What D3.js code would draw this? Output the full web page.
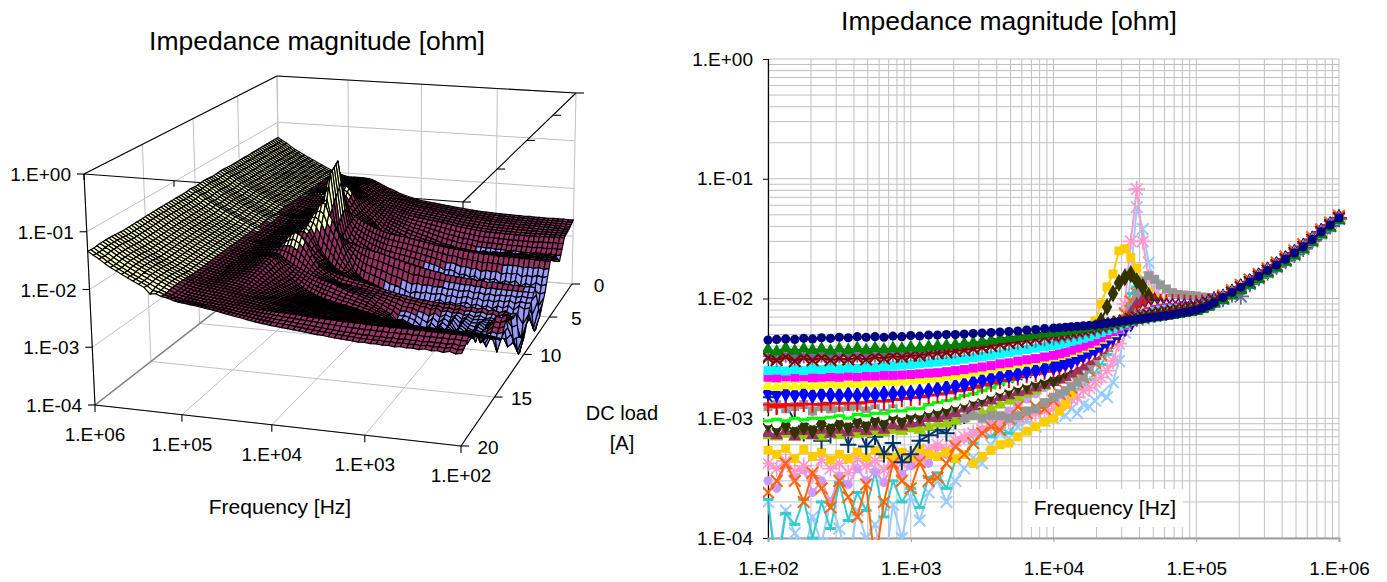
<!DOCTYPE html>
<html>
<head>
<meta charset="utf-8">
<script src="https://cdnjs.cloudflare.com/ajax/libs/d3/7.8.5/d3.min.js"></script>
<style>
  html, body { margin: 0; background: #fff; }
  text { font-family: "Liberation Sans", Arial, sans-serif; fill: #000; }
</style>
</head>
<body>
<svg id="chart" width="1387" height="582"></svg>
<script>
// frequency axis, Hz
const freqLow = [100,115,133,154,178,205,237,274,316,365,422,487,562,649,750,866,1000,1155,1334,1540,1778,2054,2371,2738,3162,3652,4217,4870,5623,6494,7499,8660]
const freqMid = [10000,11007,12115,13335,14678,16156,17783,19573,21544,23714,26102,28730,31623,34807,38312,42170,46416,51090,56234,61897,68129,74989,82540,90852,100000,110069,121153,133352]
const freqTail = [154000,178000,205000,237000,274000,316000,365000,422000,487000,562000,649000,750000,866000,1000000]
const frequencies = [...freqLow, ...freqMid, ...freqTail]

// above 150 kHz all the curves sit on top of each other, values in milliohm
const tailMain = [10.2,11.2,12.4,13.7,15.3,17.1,19,21.3,24,27,31,36,41,47]
const tailUpper = [10.6,11.7,13,14.4,16,17.9,20,22.4,25.2,28.4,32.5,37.7,43,49]
const tailLower = [9.7,10.6,11.7,13,14.5,16.2,18,20.2,22.8,25.7,29.5,34.2,39,45]
const tailSlate = [9.9,10.8,10.4,13.2,14.8,16.5,18.4,20.6,23.2,26,30,35,40,46]

// impedance in milliohm, one row per DC load, 100 Hz .. 133 kHz
const zLightBlue = [.2,.06,.17,.11,.07,.15,.09,.2,.12,.06,.17,.1,.13,.05,.19,.1,.22,.14,.24,.3,.2,.3,.38,.47,.42,.6,.75,.68,.85,.95,.85,.95,
  1,1.1,1.05,1.2,1.1,1.3,1.25,1.4,1.6,1.5,2,3,5.2,16,58,38,20,13,10.5,9.4,8.8,8.5,8.4,8.3,8.3,8.6,9,9.4]
const zTeal = [.21,.05,.16,.13,.21,.1,.2,.12,.29,.14,.24,.17,.36,.15,.3,.2,.26,.18,.32,.35,.26,.44,.5,.62,.8,.7,.85,.75,.95,1,1.15,1.3,
  1.4,1.5,1.55,1.7,1.75,1.9,2.1,2.4,2.8,3.4,4.2,5.5,8,11,12.5,11.5,10,9.5,9,8.8,8.6,8.5,8.4,8.4,8.4,8.7,9.1,9.5]
const zLavender = [.3,.26,.42,.32,.37,.24,.3,.2,.33,.28,.38,.3,.36,.29,.42,.34,.4,.48,.42,.58,.5,.6,.68,.75,.8,.9,1,1.15,1.3,1.45,1.6,1.8,
  2,2.1,2.25,2.4,2.6,2.8,3,3.3,3.6,4,4.5,5.1,5.8,6.6,7.5,8.3,8.7,8.8,8.7,8.6,8.5,8.5,8.4,8.4,8.4,8.7,9.1,9.5]
const zRose = [.42,.38,.44,.36,.4,.33,.45,.38,.42,.35,.46,.4,.44,.37,.48,.42,.5,.46,.55,.6,.55,.65,.7,.75,.8,.85,.9,.95,1,1.05,1.1,1.15,
  1.2,1.3,1.35,1.45,1.5,1.7,1.8,2,2.2,2.5,3,4.2,9,30,82,30,15,11,9.5,8.8,8.5,8.4,8.3,8.3,8.3,8.6,9,9.5]
const zGold = [.54,.5,.56,.46,.55,.48,.52,.45,.5,.46,.52,.47,.54,.5,.47,.52,.47,.55,.5,.48,.52,.46,.5,.42,.48,.54,.6,.62,.7,.78,.85,.93,
  1,1.15,1.3,1.6,2.2,3,4.2,6.5,9,12.5,16,25,26,22,18,14,11.5,10,9.4,8.8,8.5,8.4,8.3,8.3,8.3,8.6,9,9.5]
const zOrange = [.24,.3,.42,.3,.2,.35,.26,.18,.3,.22,.15,.28,.06,.2,.42,.3,.26,.43,.3,.32,.42,.58,.5,.62,.75,.85,.8,1,1.25,1.1,1.25,1.2,
  1.4,1.6,1.7,1.8,2,2.2,2.5,2.9,3.4,4,4.8,6,7.5,9.5,11,10.5,9.8,9.3,9,8.8,8.7,8.6,8.5,8.5,8.5,8.8,9.2,9.6]
const zNavyPlus = [1.5,1.25,1.3,.95,.75,.9,.65,.72,.88,.6,.85,.58,.7,.5,.62,.43,.5,.65,.72,.8,.75,.95,1.05,1.2,1.35,1.6,1.7,1.85,2,2.1,2.3,2.5,
  2.8,2.9,3,3.2,3.3,3.5,3.7,4,4.3,4.6,5,5.4,5.9,6.5,7.2,8,8.4,8.5,8.5,8.5,8.5,8.5,8.5,8.5,8.5,8.7,9.1,9.5]
const zLimeTri = [.72,.7,.74,.7,.72,.75,.7,.74,.72,.76,.74,.75,.78,.76,.8,.78,.82,.8,.85,.9,.9,.95,1,1.05,1.1,1.2,1.3,1.4,1.5,1.6,1.7,1.85,
  2,2.15,2.3,2.45,2.6,2.8,3.1,3.4,3.8,4.2,4.8,5.4,6.2,7,8,9,9.6,9.4,9.1,8.9,8.8,8.7,8.6,8.6,8.6,8.9,9.3,9.7]
const zGray = [1.25,1.3,1.2,1.25,1.3,1.15,1.25,1.2,1.15,1.25,1.2,1.15,1.2,1.1,1.2,1.1,1.15,1.05,1.1,1.1,1.05,1.1,1,1.05,1,1.05,1.05,1,1.05,1.15,1.2,1.35,
  1.5,1.6,1.7,1.85,2,2.2,2.6,3,3.5,3.9,4.4,5,6.5,8.5,11,14,15.5,14.5,13,12,11.2,10.8,10.7,10.6,10.5,10.3,10.2,10.2]
const zPlum = [.75,.72,.78,.7,.78,.72,.8,.74,.8,.76,.82,.78,.85,.8,.87,.85,.9,.92,1,1,1.05,1.1,1.2,1.25,1.35,1.4,1.5,1.55,1.65,1.7,1.8,1.9,
  2,2.1,2.2,2.35,2.5,2.7,3,3.3,3.7,4.1,4.6,5.3,6.2,7.5,9,9.8,9.8,9.5,9.2,9,8.8,8.7,8.6,8.6,8.6,8.9,9.3,9.7]
const zOlive = [.9,.82,.88,.78,.85,.8,.9,.82,.9,.85,.95,.88,.97,.9,1.05,.95,1.05,1.05,1.15,1.15,1.2,1.3,1.35,1.45,1.5,1.6,1.7,1.75,1.85,1.9,2,2.05,
  2.1,2.3,2.5,2.8,3.1,3.5,4,5,6.5,8.5,11,13.5,15,16,14,12.5,10.5,9.5,9,8.7,8.6,8.5,8.5,8.5,8.6,8.9,9.3,9.7]
const zWhite = [.95,.9,1,.92,1,.95,1.05,.98,1.05,1,1.08,1.02,1.1,1.05,1.12,1.1,1.15,1.15,1.2,1.25,1.3,1.35,1.4,1.5,1.55,1.65,1.75,1.85,1.95,2.05,2.15,2.25,
  2.4,2.5,2.6,2.75,2.9,3.1,3.3,3.5,3.8,4.1,4.5,4.9,5.4,6,6.7,7.5,8,8.3,8.4,8.4,8.4,8.4,8.4,8.4,8.4,8.6,9,9.4]
const zLimeDash = [.95,.98,.95,1,.97,1,1,1.02,1.05,1,1.08,1.05,1.1,1.1,1.15,1.15,1.2,1.2,1.3,1.35,1.4,1.45,1.55,1.6,1.7,1.8,1.95,2.05,2.2,2.35,2.5,2.6,
  2.75,2.85,2.95,3.1,3.2,3.4,3.6,3.9,4.2,4.5,4.9,5.3,5.8,6.4,7.2,8.2,8.9,9.2,9.2,9.1,9,8.9,8.8,8.8,8.8,9,9.4,9.8]
const zRed = [1.3,1.25,1.3,1.28,1.32,1.3,1.3,1.35,1.32,1.35,1.33,1.36,1.4,1.38,1.42,1.45,1.48,1.5,1.55,1.58,1.62,1.68,1.72,1.8,1.88,1.95,2.05,2.1,2.2,2.3,2.35,2.45,
  2.5,2.6,2.7,2.9,3,3.2,3.4,3.6,3.9,4.2,4.6,5,5.6,6.4,7.5,8.5,9,9.2,9.3,9.3,9.3,9.2,9.2,9.1,9.1,9.2,9.4,9.8]
const zBlue = [1.65,1.6,1.62,1.58,1.6,1.55,1.58,1.56,1.55,1.57,1.55,1.58,1.57,1.6,1.6,1.62,1.62,1.66,1.7,1.75,1.8,1.85,1.92,2,2.08,2.15,2.22,2.3,2.35,2.45,2.52,2.6,
  2.7,2.8,2.9,3,3.2,3.4,3.6,3.8,4.1,4.4,4.8,5.2,5.7,6.2,6.9,7.6,8.1,8.4,8.5,8.5,8.5,8.5,8.5,8.5,8.5,8.7,9.1,9.5]
const zYellow = [1.85,1.82,1.88,1.84,1.9,1.86,1.9,1.92,1.9,1.95,1.92,1.98,1.95,2,2,2.02,2.05,2.08,2.12,2.15,2.2,2.25,2.32,2.4,2.48,2.55,2.65,2.72,2.82,2.9,3,3.1,
  3.2,3.3,3.4,3.5,3.65,3.8,4,4.2,4.5,4.8,5.1,5.5,5.9,6.4,7,7.6,8,8.3,8.4,8.4,8.4,8.4,8.4,8.4,8.4,8.6,9,9.4]
const zMagenta = [2.2,2.18,2.22,2.2,2.22,2.18,2.2,2.22,2.2,2.25,2.22,2.25,2.25,2.28,2.28,2.3,2.32,2.35,2.38,2.4,2.45,2.5,2.55,2.62,2.68,2.75,2.85,2.9,3,3.08,3.15,3.25,
  3.35,3.45,3.55,3.7,3.85,4,4.2,4.4,4.7,5,5.3,5.6,6,6.4,6.9,7.4,7.8,8.1,8.3,8.4,8.4,8.4,8.4,8.4,8.4,8.6,9,9.4]
const zCyan = [2.5,2.52,2.48,2.55,2.5,2.58,2.55,2.6,2.58,2.62,2.6,2.65,2.65,2.7,2.72,2.78,2.8,2.85,2.9,2.95,3,3.05,3.12,3.2,3.28,3.35,3.45,3.55,3.65,3.75,3.85,3.95,
  4.05,4.15,4.25,4.4,4.5,4.65,4.8,5,5.2,5.4,5.6,5.9,6.2,6.5,6.9,7.2,7.5,7.8,8,8.1,8.2,8.2,8.2,8.2,8.3,8.5,8.9,9.3]
const zSlate = [3.3,3.15,3.4,3.2,3.35,3.25,3.4,3.25,3.35,3.3,3.4,3.3,3.4,3.35,3.45,3.4,3.5,3.45,3.55,3.6,3.65,3.7,3.8,3.9,3.95,4.05,4.15,4.25,4.35,4.45,4.55,4.65,
  4.75,4.85,4.95,5.05,5.15,5.3,5.45,5.6,5.75,5.9,6.05,6.2,6.4,6.6,6.8,7,7.15,7.3,7.5,7.65,7.8,7.95,8.1,8.25,8.4,8.7,9.1,9.5]
const zDarkRed = [3.2,3.05,3.25,3,3.2,3.05,3.2,3.05,3.15,3.1,3.2,3.1,3.25,3.15,3.3,3.25,3.35,3.35,3.45,3.5,3.55,3.65,3.7,3.8,3.9,4,4.15,4.25,4.35,4.5,4.6,4.75,
  4.9,5,5.1,5.2,5.35,5.45,5.6,5.75,5.9,6.05,6.2,6.4,6.55,6.75,6.95,7.15,7.3,7.45,7.6,7.75,7.9,8.05,8.2,8.35,8.5,8.8,9.2,9.7]
const zGreen = [3.75,3.6,3.85,3.65,3.8,3.7,3.8,3.65,3.8,3.7,3.85,3.7,3.85,3.75,3.85,3.8,3.9,3.85,3.95,4,4.05,4.1,4.2,4.25,4.35,4.45,4.55,4.65,4.75,4.85,4.95,5.05,
  5.15,5.25,5.3,5.4,5.5,5.6,5.7,5.8,5.9,6,6.15,6.25,6.35,6.5,6.6,6.7,6.8,6.9,7,7.1,7.25,7.4,7.55,7.7,7.85,8.15,8.5,9]
const zNavy = [4.5,4.55,4.6,4.55,4.65,4.6,4.7,4.65,4.75,4.7,4.8,4.75,4.8,4.75,4.85,4.8,4.9,4.85,4.95,4.95,5,5,5.05,5.1,5.15,5.2,5.25,5.3,5.35,5.45,5.5,5.6,
  5.65,5.7,5.75,5.8,5.85,5.9,5.95,6,6.1,6.2,6.3,6.4,6.5,6.6,6.7,6.8,6.9,7,7.1,7.2,7.35,7.5,7.65,7.8,8,8.3,8.7,9.2]

// draw order of the 2D chart, first = underneath
const seriesRows = [
  { load: 7, z: zLightBlue, tail: tailUpper, color: '#99ccff', marker: 'times' },
  { load: 10, z: zTeal, tail: tailMain, color: '#33cccc', marker: 'dash' },
  { load: 11, z: zLavender, tail: tailMain, color: '#cc99ff', marker: 'circle' },
  { load: 6, z: zRose, tail: tailMain, color: '#ff99cc', marker: 'star' },
  { load: 9, z: zGold, tail: tailUpper, color: '#ffcc00', marker: 'square' },
  { load: 10.5, z: zOrange, tail: tailUpper, color: '#ff6600', marker: 'times' },
  { load: 13, z: zNavyPlus, tail: tailMain, color: '#003366', marker: 'plus' },
  { load: 3, z: zLimeTri, tail: tailMain, color: '#99cc00', marker: 'triangle' },
  { load: 4, z: zGray, tail: tailMain, color: '#969696', marker: 'square' },
  { load: 14, z: zPlum, tail: tailMain, color: '#993366', marker: 'triangle' },
  { load: 12, z: zOlive, tail: tailMain, color: '#333300', marker: 'diamond' },
  { load: 11.5, z: zWhite, tail: tailMain, color: '#ffffff', marker: 'circle' },
  { load: 8, z: zLimeDash, tail: tailMain, color: '#00ff00', marker: 'dash' },
  { load: 5, z: zRed, tail: tailMain, color: '#ff0000', marker: 'plus' },
  { load: 2, z: zBlue, tail: tailMain, color: '#0000ff', marker: 'diamond' },
  { load: 1, z: zYellow, tail: tailMain, color: '#ffff00', marker: 'triangle' },
  { load: 0, z: zMagenta, tail: tailMain, color: '#ff00ff', marker: 'square' },
  { load: 17, z: zCyan, tail: tailLower, color: '#00ffff', marker: 'square' },
  { load: 20, z: zSlate, tail: tailSlate, color: '#666699', marker: 'star' },
  { load: 18, z: zDarkRed, tail: tailMain, color: '#800000', marker: 'times' },
  { load: 19.5, z: zGreen, tail: tailLower, color: '#008000', marker: 'triangle' },
  { load: 19, z: zNavy, tail: tailMain, color: '#000080', marker: 'circle' }
]

const freqTicks = [1e2, 1e3, 1e4, 1e5, 1e6]
const zTicks = [1e-4, 1e-3, 1e-2, 1e-1, 1]
const loadTicks = [0, 5, 10, 15, 20]
const bandColors = ['#9999ff', '#993366', '#ffffcc', '#ccffff']
const gridColor = '#c0c0c0'
const tickFont = 19
const meshPerAmp = 4 // mesh strips drawn per ampere of load

const svg = d3.select('#chart')
const sciLabel = d => {
  const e = Math.round(Math.log10(d))
  return `1.E${e < 0 ? '-' : '+'}${String(Math.abs(e)).padStart(2, '0')}`
}
const rowPoints = row => frequencies.map((f, i) => ({ f, z: (i < row.z.length ? row.z[i] : row.tail[i - row.z.length]) / 1000 }))

const draw2d = () => {
  const x = d3.scaleLog().domain([1e2, 1e6]).range([768, 1339])
  const y = d3.scaleLog().domain([1e-4, 1]).range([538, 59])
  const g = svg.append('g')

  const minorX = d3.range(2, 6).flatMap(e => d3.range(1, 10).map(k => k * 10 ** e)).concat(1e6)
  const minorY = d3.range(-4, 0).flatMap(e => d3.range(1, 10).map(k => k * 10 ** e)).concat(1)
  g.append('g').selectAll('line').data(minorX).join('line')
    .attr('x1', d => x(d)).attr('x2', d => x(d)).attr('y1', 59).attr('y2', 538)
    .attr('stroke', gridColor).attr('stroke-width', 1)
  g.append('g').selectAll('line').data(minorY).join('line')
    .attr('y1', d => y(d)).attr('y2', d => y(d)).attr('x1', 768).attr('x2', 1339)
    .attr('stroke', gridColor).attr('stroke-width', 1)

  const axisLeft = d3.axisLeft(y).tickValues(zTicks).tickFormat(sciLabel).tickSize(5).tickPadding(10)
  const yAxis = g.append('g').attr('transform', 'translate(768,0)').call(axisLeft)
  yAxis.selectAll('text').style('font-size', `${tickFont}px`)
  yAxis.select('.domain').attr('stroke', '#000').attr('stroke-width', 1.2)

  const axisBottom = d3.axisBottom(x).tickValues(freqTicks).tickFormat(sciLabel).tickSize(4).tickPadding(20)
  const xAxis = g.append('g').attr('transform', 'translate(0,538)').call(axisBottom)
  xAxis.selectAll('text').style('font-size', `${tickFont}px`)
  xAxis.select('.domain').attr('stroke', '#a0a0a0').attr('stroke-width', 2)
  xAxis.selectAll('.tick line').attr('stroke', '#a0a0a0')

  svg.append('clipPath').attr('id', 'plotClip').append('rect')
    .attr('x', 763).attr('y', 55).attr('width', 584).attr('height', 485)

  const line = d3.line().x(d => x(d.f)).y(d => y(d.z))
  const symbols = { circle: d3.symbolCircle, square: d3.symbolSquare, triangle: d3.symbolTriangle, diamond: d3.symbolDiamond, times: d3.symbolTimes, plus: d3.symbolPlus }
  const sizes = { circle: 66, square: 81, triangle: 75, diamond: 95, times: 90, plus: 90 }
  const plot = g.append('g').attr('clip-path', 'url(#plotClip)')

  seriesRows.forEach(row => {
    const pts = rowPoints(row)
    const s = plot.append('g')
    s.append('path').attr('d', line(pts)).attr('fill', 'none').attr('stroke', row.color).attr('stroke-width', 2)
    const marks = s.selectAll('g').data(pts).join('g').attr('transform', d => `translate(${x(d.f)},${y(d.z)})`)
    if (row.marker === 'dash') {
      marks.append('rect').attr('x', -5.5).attr('y', -1.5).attr('width', 11).attr('height', 3).attr('fill', row.color)
    } else if (row.marker === 'star') {
      marks.append('path').attr('d', d3.symbol(d3.symbolTimes, 90)).attr('stroke', row.color).attr('fill', 'none').attr('stroke-width', 1.7)
      marks.append('path').attr('d', d3.symbol(d3.symbolPlus, 90)).attr('stroke', row.color).attr('fill', 'none').attr('stroke-width', 1.7)
    } else if (row.marker === 'times' || row.marker === 'plus') {
      marks.append('path').attr('d', d3.symbol(symbols[row.marker], sizes[row.marker])).attr('stroke', row.color).attr('fill', 'none').attr('stroke-width', 2)
    } else {
      marks.append('path').attr('d', d3.symbol(symbols[row.marker], sizes[row.marker])).attr('fill', row.color)
    }
  })

  svg.append('text').attr('x', 1009).attr('y', 30).attr('text-anchor', 'middle').style('font-size', '26.5px').text('Impedance magnitude [ohm]')
  svg.append('rect').attr('x', 1028).attr('y', 489).attr('width', 155).attr('height', 38).attr('fill', '#fff')
  svg.append('text').attr('x', 1105).attr('y', 515).attr('text-anchor', 'middle').style('font-size', '21px').text('Frequency [Hz]')
}

// corners of the 3D box as they sit in the picture
const floorCorners = { frontHigh: [95, 405], frontLow: [461, 446], backLow: [572, 284], backHigh: [280, 261] }
const topCorners = { frontHigh: [84, 174], frontLow: [463, 202], backLow: [576, 93], backHigh: [277, 76] }

const draw3d = () => {
  const tFreq = d3.scaleLog().domain([1e6, 1e2]).range([0, 1])
  const tLoad = d3.scaleLinear().domain([0, 20]).range([0, 1])
  const tZ = d3.scaleLog().domain([1e-4, 1]).range([0, 1]).clamp(true)
  const persp = (t, w) => t / (t + w * (1 - t))
  const mix = (a, b, t) => [a[0] + (b[0] - a[0]) * t, a[1] + (b[1] - a[1]) * t]
  const onPlane = (c, u, v) => mix(mix(c.backHigh, c.backLow, u), mix(c.frontHigh, c.frontLow, u), v)
  const project = (f, load, z) => {
    const u = persp(tFreq(f), 1.07)
    const v = persp(tLoad(load), 1.3)
    return mix(onPlane(floorCorners, u, v), onPlane(topCorners, u, v), tZ(z))
  }
  const path = d3.line()
  const g = svg.append('g')
  const seg = (a, b, color, width) => g.append('path').attr('d', path([a, b])).attr('fill', 'none').attr('stroke', color).attr('stroke-width', width)

  // walls and floor
  freqTicks.forEach(f => {
    seg(project(f, 0, 1e-4), project(f, 0, 1), gridColor, 1)
    seg(project(f, 0, 1e-4), project(f, 20, 1e-4), gridColor, 1)
  })
  zTicks.forEach(z => {
    seg(project(1e6, 0, z), project(1e2, 0, z), gridColor, 1)
    seg(project(1e6, 0, z), project(1e6, 20, z), gridColor, 1)
  })
  loadTicks.forEach(l => {
    seg(project(1e6, l, 1e-4), project(1e2, l, 1e-4), gridColor, 1)
    seg(project(1e6, l, 1e-4), project(1e6, l, 1), gridColor, 1)
  })
  seg(project(1e6, 0, 1e-4), project(1e6, 20, 1e-4), '#808080', 1.5)

  // box outline
  const black = (a, b) => seg(a, b, '#000', 1.1)
  black(project(1e6, 20, 1), project(1e6, 0, 1))
  black(project(1e6, 0, 1), project(1e2, 0, 1))
  black(project(1e2, 0, 1), project(1e2, 20, 1))
  black(project(1e2, 20, 1), project(1e6, 20, 1))
  black(project(1e6, 20, 1), project(1e6, 20, 1e-4))
  black(project(1e6, 20, 1e-4), project(1e2, 20, 1e-4))
  black(project(1e2, 20, 1e-4), project(1e2, 0, 1e-4))

  freqTicks.forEach(f => {
    const a = project(f, 20, 1e-4), b = project(f, 20, 1)
    black(a, [a[0], a[1] + 7])
    black(b, [b[0], b[1] + 6])
  })
  loadTicks.forEach(l => {
    const a = project(1e2, l, 1e-4), b = project(1e2, l, 1)
    black(a, [a[0] + 8, a[1]])
    black(b, [b[0] + 8, b[1]])
  })
  zTicks.forEach(z => {
    const a = project(1e6, 20, z)
    black(a, [a[0] - 7, a[1]])
  })

  // surface, painted from the back row to the front row
  const rows = seriesRows.slice().sort((a, b) => a.load - b.load)
  const meshRow = (r0, r1, t) => {
    const p0 = rowPoints(r0), p1 = rowPoints(r1)
    const load = r0.load + (r1.load - r0.load) * t
    return p0.map((d, i) => {
      const z = 10 ** (Math.log10(d.z) * (1 - t) + Math.log10(p1[i].z) * t)
      return { z, p: project(d.f, load, z) }
    })
  }
  const cells = []
  for (let r = 0; r < rows.length - 1; r++) {
    const steps = Math.round((rows[r + 1].load - rows[r].load) * meshPerAmp)
    for (let s = 0; s < steps; s++) {
      const back = meshRow(rows[r], rows[r + 1], s / steps)
      const front = meshRow(rows[r], rows[r + 1], (s + 1) / steps)
      for (let c = frequencies.length - 2; c >= 0; c--) {
        const q = [back[c], back[c + 1], front[c + 1], front[c]]
        let level = Math.floor(d3.mean(q, d => Math.log10(d.z))) + 4
        if (level < 1 && d3.max(q, d => d.z) >= 1e-3) level = 1
        cells.push({ pts: q.map(d => d.p), color: bandColors[Math.max(0, Math.min(3, level))] })
      }
    }
  }
  const cell = d3.line().curve(d3.curveLinearClosed)
  g.append('g').selectAll('path').data(cells).join('path')
    .attr('d', d => cell(d.pts)).attr('fill', d => d.color)
    .attr('stroke', '#000').attr('stroke-width', 1.2).attr('stroke-linejoin', 'round')

  // labels
  const label = (t, px, py, anchor, size) => svg.append('text').attr('x', px).attr('y', py).attr('text-anchor', anchor).style('font-size', `${size || tickFont}px`).text(t)
  zTicks.forEach(z => {
    const a = project(1e6, 20, z)
    label(sciLabel(z), a[0] - 13, a[1] + 7, 'end')
  })
  freqTicks.forEach(f => {
    const a = project(f, 20, 1e-4)
    label(sciLabel(f), a[0], a[1] + 36, 'middle')
  })
  loadTicks.forEach(l => {
    const a = project(1e2, l, 1e-4)
    label(l, a[0] + 27, a[1] + 8, 'middle')
  })
  label('Impedance magnitude [ohm]', 317, 50, 'middle', 26.5)
  label('Frequency [Hz]', 280, 514, 'middle', 21)
  label('DC load', 622, 420, 'middle', 20)
  label('[A]', 622, 450, 'middle', 20)
}

draw3d()
draw2d()
</script>
</body>
</html>
